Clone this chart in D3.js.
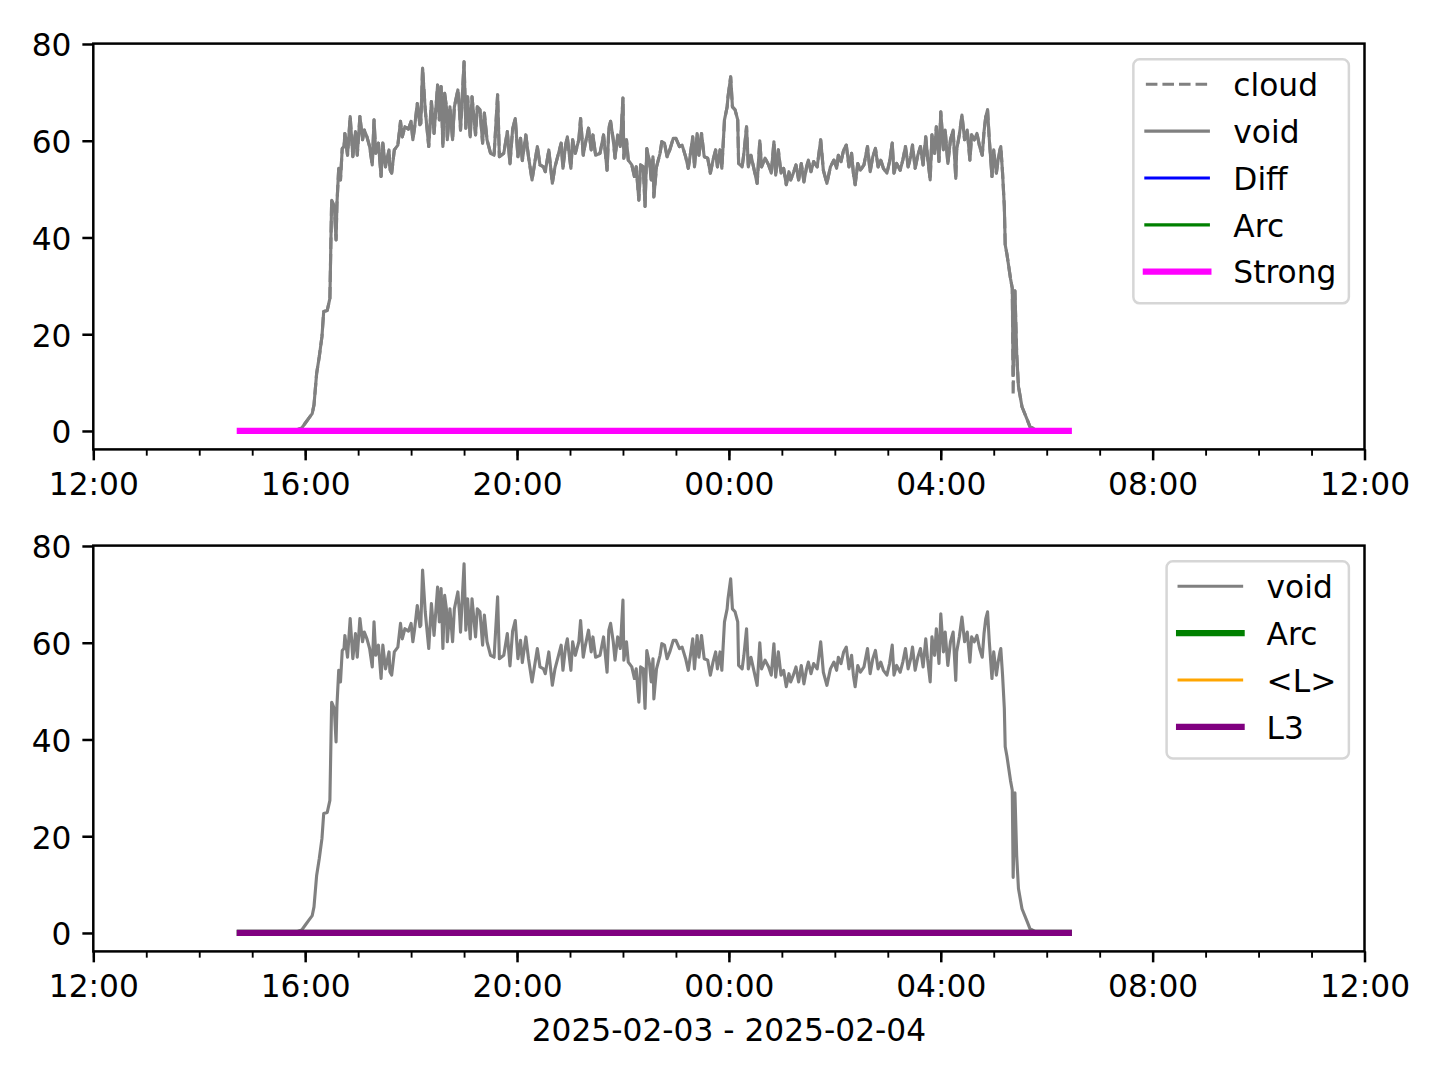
<!DOCTYPE html>
<html><head><meta charset="utf-8">
<script src="https://cdn.jsdelivr.net/npm/d3@7/dist/d3.min.js"></script>
<style>body{margin:0;background:#fff}svg{display:block}text{font-family:"DejaVu Sans",sans-serif;fill:#000}</style>
</head><body>
<script>
// ---------------- data ----------------
const voidTimes = [
"14:46","15:30","15:50","15:56","16:00","16:04","16:08","16:10","16:13","16:16","16:19","16:21","16:25","16:28","16:30","16:33","16:35","16:36","16:38","16:40",
"16:42","16:44","16:45","16:48","16:51","16:54","16:57","16:59","17:02","17:05","17:07","17:10","17:13","17:16","17:18","17:20","17:23","17:26","17:28","17:31",
"17:35","17:36","17:38","17:41","17:45","17:48","17:50","17:53","17:57","18:00","18:02","18:04","18:07","18:10","18:11","18:13","18:16","18:20","18:23","18:26",
"18:30","18:32","18:34","18:36","18:38","18:40","18:41","18:44","18:47","18:49","18:53","18:55","18:56","19:00","19:02","19:04","19:07","19:09","19:13","19:15",
"19:18","19:21","19:23","19:26","19:30","19:34","19:38","19:40","19:45","19:49","19:52","19:55","19:58","20:01","20:04","20:06","20:10","20:13","20:17","20:23",
"20:26","20:30","20:32","20:36","20:40","20:43","20:47","20:50","20:52","20:55","20:57","20:59","21:01","21:03","21:06","21:10","21:12","21:15","21:17","21:21",
"21:24","21:26","21:29","21:34","21:38","21:42","21:44","21:46","21:49","21:51","21:54","21:57","22:00","22:01","22:04","22:06","22:10","22:13","22:15","22:18",
"22:20","22:23","22:25","22:27","22:30","22:32","22:34","22:35","22:38","22:42","22:44","22:47","22:50","22:53","22:57","23:00","23:04","23:07","23:11","23:14",
"23:17","23:19","23:21","23:24","23:26","23:29","23:32","23:36","23:39","23:42","23:45","23:47","23:50","23:52","23:55","23:58","23:59","00:02","00:04","00:07",
"00:10","00:11","00:15","00:17","00:20","00:22","00:25","00:28","00:32","00:35","00:37","00:41","00:45","00:48","00:51","00:53","00:56","00:59","01:02","01:05",
"01:08","01:10","01:13","01:16","01:19","01:22","01:25","01:28","01:30","01:33","01:36","01:40","01:44","01:47","01:51","01:55","01:59","02:02","02:04","02:07",
"02:10","02:13","02:16","02:19","02:21","02:23","02:26","02:29","02:33","02:37","02:40","02:43","02:46","02:49","02:52","02:55","02:59","03:02","03:05","03:07",
"03:10","03:14","03:17","03:20","03:23","03:26","03:28","03:31","03:34","03:37","03:40","03:43","03:45","03:48","03:50","03:53","03:55","03:58","04:00","04:03",
"04:05","04:08","04:11","04:14","04:17","04:18","04:21","04:24","04:27","04:30","04:33","04:35","04:38","04:41","04:44","04:47","04:49","04:51","04:53","04:55",
"04:58","05:00","05:03","05:05","05:07","05:08","05:10","05:12","05:13","05:15","05:17","05:19","05:21","05:22","05:24","05:26","05:28","05:32","05:38","05:41",
"05:47","05:52","06:25"
];
const voidValues = [
0,0,0.2,0.6,1.6,2.6,3.6,5.4,11.9,15.4,19.5,24.7,24.9,27.4,47.7,46.4,39.5,47,54.3,51.9,
58.4,58.8,61.5,57,65,56.7,61.9,57,65,60.2,62.2,60.8,58.8,55,64.3,57.4,59.5,52.6,59.5,54.6,
58.1,54,53.3,58.1,59.1,64,60.8,62.9,62.4,64,60.2,62.8,67.7,63.3,63.6,75,66.4,58.8,68.1,61.5,
71.5,64.3,71.2,58.8,69.8,67,60.2,67,60.2,67,70.5,65.7,62.2,76.3,62.6,69.1,60.8,69.1,61.2,67,
66.4,59.5,65.7,60.2,57.4,57,69.5,56.7,57.4,61.9,55.2,62.4,64.6,56.7,60.5,55.9,61.2,56.7,51.9,58.8,
55,54.6,53.6,58.1,51.2,54.6,57.4,59.5,54.3,59.1,60.8,57.4,54.3,60.2,57.4,60.2,64.6,57,59.1,62.6,
58.1,61.2,57,57.4,61.2,53.9,62.6,64,60.2,56.4,61.2,58.8,68.8,56.4,60.2,56,55,52.6,54.6,47.7,
55,54.6,46.4,58.4,55.7,51.9,56.7,48.4,54.6,57.4,59.8,59.5,56.7,58.1,60.5,60.5,58.8,59.1,56.7,54.3,
58.1,60.8,54.6,61.5,57,61.5,56.7,56.4,53.3,56,58.1,54.6,58.1,54.3,64.3,67,69.1,73.2,67,66.4,
64.3,55.3,54.6,57.4,62.9,54.6,57,54.5,51.2,60,54.6,56.4,55,53.3,59.8,52.9,58.1,53.3,54.3,50.9,
53.6,51.9,53.3,55,51.9,55.3,51.5,54.6,56,53.6,55.7,54.6,60.2,53.9,51.2,54.6,56,54.3,57,55.7,
58.1,59.1,54.6,57.4,53.3,50.9,55.3,53.9,55,58.8,53.6,56.7,58.4,54.6,56,54.3,53.3,55.7,59.5,53.3,
55.3,53.9,56,58.8,54.6,56.7,59.1,54.3,57,58.8,55,60.8,56.7,51.9,61.2,57.4,62.9,55.7,66,58.1,
62.2,55.3,60.2,62.2,52.2,58.1,61.2,65.3,60.2,62.2,56,61.2,60.2,61.5,58.8,57,61.9,65,66.4,60.2,
52.6,58.1,53.3,56,58.1,58.8,53.3,46.4,38.5,36.5,34,31.5,29.5,11.5,29,16,9.2,5,2.3,0.9,
0.3,0,0
];
// the "cloud" series follows "void" except for its deeper dip at 05:22
const cloudDipTime = "05:22";
const cloudDipValue = 7.4;
const cloudValues = voidValues.map((v, i) => voidTimes[i] === cloudDipTime ? cloudDipValue : v);

const flatTimes = ["14:46", "06:25"];
const diffValues = [0, 0];
const arcValues = [0, 0];
const strongValues = [0, 0];
const meanLValues = [0, 0];
const l3Values = [0, 0];

const yTickValues = [0, 20, 40, 60, 80];
const xLabel = "2025-02-03 - 2025-02-04";

// ---------------- layout ----------------
const W = 1440, H = 1080;
const PT = 225 / 72;             // px per point
const FS = 10 * PT;              // font size
const left = 93.3, right = 1364.5;
const panels = [
  {top: 43.6, bottom: 449.4},
  {top: 545.6, bottom: 951.4}
];
const parseT = s => { const [h, m] = s.split(":").map(Number); return new Date(2025, 1, h < 12 ? 4 : 3, h, m); };
const x = d3.scaleTime().domain([new Date(2025, 1, 3, 12), new Date(2025, 1, 4, 12)]).range([left, right]);

const svg = d3.select("body").append("svg").attr("width", W).attr("height", H);

function series(times, values) { return times.map((t, i) => ({t: parseT(t), v: values[i]})); }

const topSeries = [
  {label: "cloud", times: voidTimes, values: cloudValues, color: "#808080", lw: 1, dash: [3.7 * PT, 1.6 * PT]},
  {label: "void", times: voidTimes, values: voidValues, color: "#808080", lw: 1},
  {label: "Diff", times: flatTimes, values: diffValues, color: "#0000ff", lw: 1},
  {label: "Arc", times: flatTimes, values: arcValues, color: "#008000", lw: 1},
  {label: "Strong", times: flatTimes, values: strongValues, color: "#ff00ff", lw: 2}
];
const bottomSeries = [
  {label: "void", times: voidTimes, values: voidValues, color: "#808080", lw: 1},
  {label: "Arc", times: flatTimes, values: arcValues, color: "#008000", lw: 2},
  {label: "<L>", times: flatTimes, values: meanLValues, color: "#ffa500", lw: 1},
  {label: "L3", times: flatTimes, values: l3Values, color: "#800080", lw: 2}
];

function drawPanel(p, list) {
  const y = d3.scaleLinear().domain([-3.81, 80.08]).range([p.bottom, p.top]);
  const g = svg.append("g");
  const line = d3.line().x(d => x(d.t)).y(d => y(d.v));
  list.forEach(s => {
    g.append("path").datum(series(s.times, s.values))
      .attr("d", line).attr("fill", "none").attr("stroke", s.color)
      .attr("stroke-width", s.lw * PT).attr("stroke-linejoin", "round")
      .attr("stroke-linecap", s.dash ? "butt" : "square")
      .attr("stroke-dasharray", s.dash ? s.dash.join(",") : null);
  });
  // minor ticks
  const minor = svg.append("g").attr("transform", `translate(0,${p.bottom})`)
    .call(d3.axisBottom(x).ticks(d3.timeHour.every(1)).tickSize(2 * PT).tickFormat(""));
  minor.select(".domain").remove();
  minor.selectAll("line").attr("stroke", "#000").attr("stroke-width", 0.6 * PT);
  // major ticks
  const major = svg.append("g").attr("transform", `translate(0,${p.bottom})`)
    .call(d3.axisBottom(x).ticks(d3.timeHour.every(4)).tickFormat(d3.timeFormat("%H:%M")).tickSize(3.5 * PT));
  major.select(".domain").remove();
  major.attr("font-family", null).attr("font-size", null);
  major.selectAll("line").attr("stroke", "#000").attr("stroke-width", 0.8 * PT);
  major.selectAll("text").attr("y", 45.5).attr("dy", null).style("font-size", FS + "px");
  // y axis
  const ya = svg.append("g").attr("transform", `translate(${left},0)`)
    .call(d3.axisLeft(y).tickValues(yTickValues).tickSize(3.5 * PT));
  ya.select(".domain").remove();
  ya.attr("font-family", null).attr("font-size", null);
  ya.selectAll("line").attr("stroke", "#000").attr("stroke-width", 0.8 * PT);
  ya.selectAll("text").attr("x", -7 * PT).attr("dy", 12).style("font-size", FS + "px");
  // frame
  svg.append("rect").attr("x", left).attr("y", p.top).attr("width", right - left).attr("height", p.bottom - p.top)
    .attr("fill", "none").attr("stroke", "#000").attr("stroke-width", 0.8 * PT);
  // legend
  const lg = svg.append("g");
  const rowStep = 1.5 * FS, firstRow = 25;
  const texts = list.map((s, i) => lg.append("text").text(s.label).style("font-size", FS + "px"));
  const tw = d3.max(texts, t => t.node().getComputedTextLength());
  const bw = 0.4 * FS + 2 * FS + 0.8 * FS + tw + 0.4 * FS;
  const bh = firstRow + (list.length - 1) * rowStep + 31.6;
  const bx = right - 0.5 * FS - bw, by = p.top + 0.5 * FS;
  lg.insert("rect", "text").attr("x", bx).attr("y", by).attr("width", bw).attr("height", bh)
    .attr("rx", 0.2 * FS).attr("fill", "rgba(255,255,255,0.8)").attr("stroke", "#d6d6d6").attr("stroke-width", 2.5);
  list.forEach((s, i) => {
    const ry = by + firstRow + i * rowStep;
    lg.append("line").attr("x1", bx + 0.4 * FS).attr("x2", bx + 2.4 * FS).attr("y1", ry).attr("y2", ry)
      .attr("stroke", s.color).attr("stroke-width", s.lw * PT)
      .attr("stroke-linecap", s.dash ? "butt" : "square")
      .attr("stroke-dasharray", s.dash ? s.dash.join(",") : null);
    texts[i].attr("x", bx + 3.2 * FS).attr("y", ry + 11.7);
  });
}

drawPanel(panels[0], topSeries);
drawPanel(panels[1], bottomSeries);

svg.append("text").attr("x", (left + right) / 2).attr("y", 1040.6).attr("text-anchor", "middle")
  .style("font-size", FS + "px").text(xLabel);
</script>
</body></html>
